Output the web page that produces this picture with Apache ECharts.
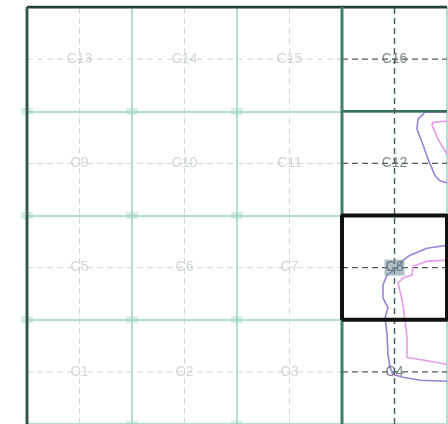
<!DOCTYPE html>
<html><head><meta charset="utf-8">
<script src="https://cdn.jsdelivr.net/npm/echarts@6/dist/echarts.min.js"></script>
<style>html,body{margin:0;padding:0;background:#fff}#c{width:448px;height:424px}</style>
</head><body><div id="c"></div>
<script>
// grid of 4x4 cells, value axes 0..4
const cellCenters = [0.5, 1.5, 2.5, 3.5];
const cellLabels = [
  ['C1', 'C2', 'C3', 'C4'],
  ['C5', 'C6', 'C7', 'C8'],
  ['C9', 'C10', 'C11', 'C12'],
  ['C13', 'C14', 'C15', 'C16']
];
const activeColumn = 3;      // right column is drawn darker
const selectedCell = [3, 1]; // C8 box (col,row)
const violetTop = [[4.0,2.99],[3.79,2.99],[3.724,2.924],[3.714,2.829],[3.762,2.705],[3.819,2.543],[3.886,2.381],[3.933,2.333],[4.0,2.314]];
const pinkTop = [[4.0,2.905],[3.867,2.895],[3.857,2.867],[3.914,2.733],[3.971,2.638],[4.0,2.59]];
const violetLow = [[4.0,1.714],[3.81,1.686],[3.648,1.619],[3.571,1.562],[3.524,1.495],[3.429,1.429],[3.39,1.333],[3.39,1.21],[3.438,1.114],[3.41,1.019],[3.429,0.857],[3.438,0.667],[3.457,0.543],[3.486,0.476],[3.581,0.448],[3.743,0.419],[4.0,0.41]];
const pinkLow = [[4.0,1.571],[3.81,1.562],[3.676,1.514],[3.667,1.429],[3.581,1.4],[3.533,1.352],[3.552,1.276],[3.581,1.143],[3.6,0.99],[3.619,0.829],[3.619,0.638],[3.743,0.619],[3.905,0.59],[4.0,0.571]];
const gridNodes = [1, 2, 3];

const series = [];
function seg(data, color, width, type, z) {
  series.push({type:'line', data:data, symbol:'none', silent:true, animation:false, z:z||2,
    lineStyle:{color:color, width:width, type:type||'solid'}});
}
// node markers at faint grid intersections
const nodes = [];
gridNodes.forEach(function(x){ [0,1,2,3].forEach(function(y){ if (x < 3) nodes.push([x, y]); }); });
[1,2,3].forEach(function(y){ nodes.push([0, y]); });
series.push({type:'scatter', data:nodes, symbol:'rect', symbolSize:[12,7], silent:true, animation:false, z:1,
  itemStyle:{color:'rgba(150,205,190,0.45)'}});

// dashed centre lines
cellCenters.forEach(function(c, i){
  seg([[0,c],[3,c]], '#cfd6d4', 1, [6,4], 2);
  seg([[3,c],[4,c]], '#4e5e5a', 1.3, [6,4], 3);
  if (i < 3) seg([[c,0],[c,4]], '#cfd6d4', 1, [6,4], 2);
  else seg([[c,0],[c,4]], '#44635a', 1.5, [6,4], 3);
});
// dark borders
seg([[0,4],[4,4]], '#24403a', 3, 'solid', 5);
seg([[0,0],[0,4]], '#355a50', 3, 'solid', 5);
seg([[3,0],[3,4]], '#3f8068', 3, 'solid', 5);
seg([[3,3],[4,3]], '#3a6e5c', 2.5, 'solid', 5);
// selected cell box
const sx = selectedCell[0], sy = selectedCell[1];
seg([[sx,sy],[sx+1,sy],[sx+1,sy+1],[sx,sy+1],[sx,sy]], '#111', 4, 'solid', 6);
// contours
seg(violetTop, '#9a80d8', 1.6, 'solid', 4);
seg(pinkTop, '#e49ae4', 1.6, 'solid', 4);
seg(violetLow, '#9a80d8', 1.6, 'solid', 4);
seg(pinkLow, '#e49ae4', 1.6, 'solid', 4);

// labels
const labelData = [];
cellLabels.forEach(function(row, r){
  row.forEach(function(name, c){
    const active = c === activeColumn;
    const sel = c === selectedCell[0] && r === selectedCell[1];
    labelData.push({name:name, value:[cellCenters[c], cellCenters[r]],
      label:{color: active ? '#5a6967' : '#c4cbca',
        backgroundColor: sel ? 'rgba(120,150,160,0.75)' : 'transparent',
        padding: sel ? [1,1] : 0}});
  });
});
series.push({type:'scatter', data:labelData, symbolSize:0, silent:true, animation:false, z:8,
  label:{show:true, position:'inside', formatter:'{b}', fontFamily:'Liberation Sans, Arial, sans-serif', fontSize:14}});

const chart = echarts.init(document.getElementById('c'));
chart.setOption({
  animation:false,
  backgroundColor:'#ffffff',
  grid:{left:27, top:7, width:420, height:420, containLabel:false},
  xAxis:{type:'value', min:0, max:4, interval:1, axisLine:{show:false}, axisTick:{show:false}, axisLabel:{show:false},
    splitLine:{show:true, lineStyle:{color:'#b2ddd2', width:2}}},
  yAxis:{type:'value', min:0, max:4, interval:1, axisLine:{show:false}, axisTick:{show:false}, axisLabel:{show:false},
    splitLine:{show:true, lineStyle:{color:'#b2ddd2', width:2}}},
  series:series
});
</script></body></html>
